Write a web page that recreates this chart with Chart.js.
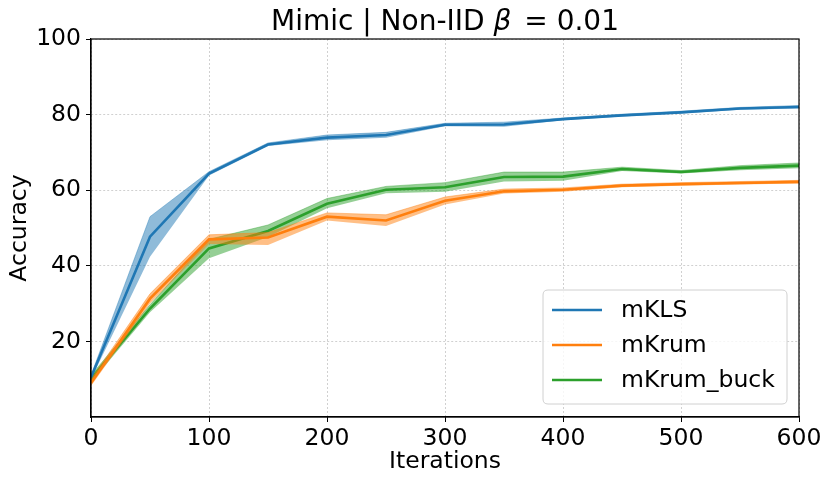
<!DOCTYPE html>
<html>
<head>
<meta charset="utf-8">
<script src="https://cdn.jsdelivr.net/npm/chart.js@4.4.0/dist/chart.umd.min.js"></script>
<style>
html,body{margin:0;padding:0;background:#fff;}
#wrap{width:831px;height:485px;position:relative;}
</style>
</head>
<body>
<div id="wrap"><canvas id="c" width="831" height="485"></canvas></div>
<script>
const iterations = [0,50,100,150,200,250,300,350,400,450,500,550,600];
const xTicks = [0,100,200,300,400,500,600];
const yTicks = [20,40,60,80,100];

const mKLS_mean  = [10.5,47.7,64.4,72.1,73.9,74.6,77.3,77.4,78.8,79.8,80.6,81.6,82.0];
const mKLS_low   = [10.0,42.4,63.9,71.7,73.2,73.9,76.9,76.8,78.5,79.5,80.3,81.3,81.6];
const mKLS_high  = [11.0,53.0,64.9,72.5,74.6,75.3,77.7,78.0,79.1,80.1,80.9,81.9,82.4];

const mKrum_mean = [9.0,31.3,47.0,47.5,53.0,52.0,57.2,59.7,60.1,61.2,61.6,61.9,62.2];
const mKrum_low  = [8.2,30.0,45.8,45.5,52.0,50.5,56.2,59.1,59.6,60.8,61.2,61.5,61.8];
const mKrum_high = [10.0,32.6,48.2,48.8,54.0,53.5,58.2,60.3,60.6,61.6,62.0,62.3,62.6];

const buck_mean  = [10.1,28.7,44.6,49.2,56.4,60.1,60.8,63.5,63.6,65.6,64.8,65.9,66.5];
const buck_low   = [9.2,27.7,42.0,47.6,55.2,59.2,59.6,62.3,62.5,65.1,64.4,65.3,65.8];
const buck_high  = [11.0,29.7,47.0,50.8,57.8,61.0,62.0,64.8,64.8,66.1,65.2,66.5,67.2];

const seriesNames = ['mKLS','mKrum','mKrum_buck'];
const colors = ['#1f77b4','#ff7f0e','#2ca02c'];
const fills = ['rgba(31,119,180,0.5)','rgba(255,127,14,0.5)','rgba(44,160,44,0.5)'];
const titleParts = ['Mimic | Non-IID ', 'β', ' = 0.01'];

const FONT = "'DejaVu Sans', sans-serif";
const FS = 23.5;
const pts = arr => iterations.map((x,i)=>({x:x,y:arr[i]}));

function band(name, low, high, mean, idx){
  return [
    {label:name+'_low', data:pts(low), borderWidth:0, pointRadius:0, fill:false, borderColor:'rgba(0,0,0,0)'},
    {label:name+'_high', data:pts(high), borderWidth:0.8, borderColor:fills[idx], pointRadius:0, fill:'-1', backgroundColor:fills[idx]},
    {label:name, data:pts(mean), borderColor:colors[idx], borderWidth:2.6, pointRadius:0, fill:false}
  ];
}

const datasets = [].concat(
  band(seriesNames[0], mKLS_low, mKLS_high, mKLS_mean, 0),
  band(seriesNames[1], mKrum_low, mKrum_high, mKrum_mean, 1),
  band(seriesNames[2], buck_low, buck_high, buck_mean, 2)
);

const framePlugin = {
  id:'frame',
  afterDraw(chart){
    const {ctx, chartArea:a} = chart;
    ctx.save();
    ctx.strokeStyle = '#000';
    ctx.lineWidth = 1.2;
    ctx.strokeRect(a.left, a.top, a.right-a.left, a.bottom-a.top);

    // title with italic beta (math style)
    const fN = "28px " + FONT, fI = "italic 28px " + FONT;
    ctx.fillStyle = '#000';
    ctx.textBaseline = 'alphabetic';
    ctx.textAlign = 'left';
    ctx.font = fN; const w0 = ctx.measureText(titleParts[0]).width;
    ctx.font = fI; const w1 = ctx.measureText(titleParts[1]).width;
    ctx.font = fN; const w2 = ctx.measureText(titleParts[2]).width;
    const gap = 4;
    const total = w0 + w1 + w2 + gap;
    let tx = (a.left + a.right)/2 - total/2;
    const ty = 30;
    ctx.font = fN; ctx.fillText(titleParts[0], tx, ty); tx += w0;
    ctx.font = fI; ctx.fillText(titleParts[1], tx, ty); tx += w1 + gap;
    ctx.font = fN; ctx.fillText(titleParts[2], tx, ty);

    // legend
    const bx = 543, by = 290, bw = 244, bh = 114, r = 5;
    ctx.fillStyle = 'rgba(255,255,255,0.8)';
    ctx.strokeStyle = '#d0d0d0';
    ctx.lineWidth = 1;
    ctx.beginPath();
    ctx.moveTo(bx+r,by); ctx.lineTo(bx+bw-r,by); ctx.quadraticCurveTo(bx+bw,by,bx+bw,by+r);
    ctx.lineTo(bx+bw,by+bh-r); ctx.quadraticCurveTo(bx+bw,by+bh,bx+bw-r,by+bh);
    ctx.lineTo(bx+r,by+bh); ctx.quadraticCurveTo(bx,by+bh,bx,by+bh-r);
    ctx.lineTo(bx,by+r); ctx.quadraticCurveTo(bx,by,bx+r,by);
    ctx.closePath(); ctx.fill(); ctx.stroke();
    const rows = [310,345,380];
    ctx.font = FS + "px " + FONT;
    ctx.textBaseline = 'middle';
    ctx.textAlign = 'left';
    seriesNames.forEach((n,i)=>{
      ctx.strokeStyle = colors[i];
      ctx.lineWidth = 2.6;
      ctx.beginPath(); ctx.moveTo(552, rows[i]); ctx.lineTo(602, rows[i]); ctx.stroke();
      ctx.fillStyle = '#000';
      ctx.fillText(n, 621, rows[i]+1);
    });
    ctx.restore();
  }
};

new Chart(document.getElementById('c'), {
  type:'line',
  data:{datasets:datasets},
  options:{
    responsive:false,
    animation:false,
    devicePixelRatio:1,
    layout:{padding:{left:0,right:32,top:39,bottom:0}},
    elements:{line:{tension:0}},
    plugins:{
      legend:{display:false},
      tooltip:{enabled:false},
      title:{display:false}
    },
    scales:{
      x:{
        type:'linear', min:0, max:600,
        afterBuildTicks(s){ s.ticks = xTicks.map(v=>({value:v})); },
        afterFit(s){ s.height = 68; },
        ticks:{color:'#000', font:{family:FONT, size:FS}, padding:3, maxRotation:0},
        grid:{color:'rgba(176,176,176,0.75)', lineWidth:0.8, tickLength:5, tickColor:'#000', tickWidth:1},
        border:{display:true, color:'#000', width:1.2, dash:[2,2]},
        title:{display:true, text:'Iterations', color:'#000', font:{family:FONT, size:FS}, padding:{top:0,bottom:9}}
      },
      y:{
        min:0, max:100,
        afterBuildTicks(s){ s.ticks = yTicks.map(v=>({value:v})); },
        afterFit(s){ s.width = 91; },
        ticks:{color:'#000', font:{family:FONT, size:FS}, padding:5},
        grid:{color:'rgba(176,176,176,0.75)', lineWidth:0.8, tickLength:5, tickColor:'#000', tickWidth:1},
        border:{display:true, color:'#000', width:1.2, dash:[2,2]},
        title:{display:true, text:'Accuracy', color:'#000', font:{family:FONT, size:FS}, padding:{top:6,bottom:4}}
      }
    }
  },
  plugins:[framePlugin]
});
</script>
</body>
</html>
